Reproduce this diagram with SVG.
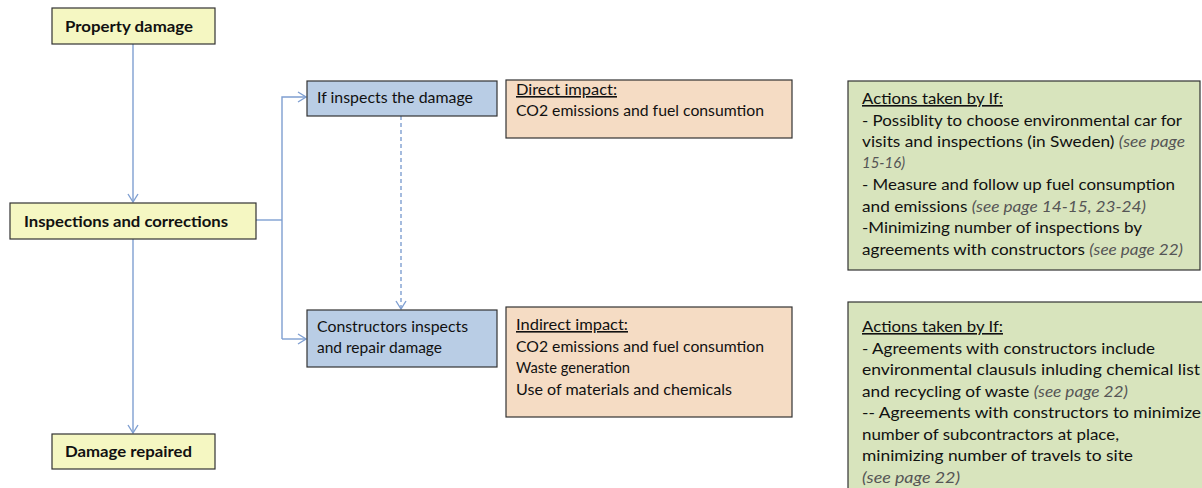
<svg xmlns="http://www.w3.org/2000/svg" width="1202" height="488" viewBox="0 0 1202 488">
<style>
text{font-family:Lato,"Open Sans","Liberation Sans",sans-serif;font-size:16px;fill:#111}
.y{fill:#f5f7c2;stroke:#333;stroke-width:1.2}
.b{fill:#b9cde5;stroke:#333;stroke-width:1.2}
.p{fill:#f5dcc4;stroke:#333;stroke-width:1.2}
.g{fill:#d8e4bd;stroke:#333;stroke-width:1.2}
.c{fill:none;stroke:#7f9fd1;stroke-width:1.4}
.d{stroke-dasharray:4,3}
.u{text-decoration:underline}
.i{font-style:italic;fill:#555}
.bo{font-weight:bold}
</style>
<defs>
<marker id="a" markerWidth="12" markerHeight="12" refX="9" refY="6" orient="auto" markerUnits="userSpaceOnUse">
<path d="M1,1 L9,6 L1,11" fill="none" stroke="#7f9fd1" stroke-width="1.4"/>
</marker>
</defs>
<g id="connectors">
<path class="c" d="M133,44 V202" marker-end="url(#a)"/>
<path class="c" d="M133,239 V433" marker-end="url(#a)"/>
<path class="c" d="M256,220 H282"/>
<path class="c" d="M282,339 V97 H306" marker-end="url(#a)"/>
<path class="c" d="M282,339 H306" marker-end="url(#a)"/>
<path class="c d" d="M401,116 V309" marker-end="url(#a)"/>
</g>
<g id="property-damage">
<rect class="y" x="52" y="8" width="163" height="36"/>
<text class="bo" x="65" y="32" textLength="128" lengthAdjust="spacingAndGlyphs">Property damage</text>
</g>
<g id="inspections">
<rect class="y" x="10" y="203" width="246" height="36"/>
<text class="bo" x="24" y="227" textLength="204" lengthAdjust="spacingAndGlyphs">Inspections and corrections</text>
</g>
<g id="damage-repaired">
<rect class="y" x="52" y="434" width="163" height="35"/>
<text class="bo" x="65" y="457" textLength="127" lengthAdjust="spacingAndGlyphs">Damage repaired</text>
</g>
<g id="if-inspects">
<rect class="b" x="307" y="81" width="190" height="35"/>
<text x="317" y="103" textLength="156" lengthAdjust="spacingAndGlyphs">If inspects the damage</text>
</g>
<g id="constructors">
<rect class="b" x="307" y="310" width="190" height="57"/>
<text x="317" y="332" textLength="151" lengthAdjust="spacingAndGlyphs">Constructors inspects</text>
<text x="317" y="353" textLength="125" lengthAdjust="spacingAndGlyphs">and repair damage</text>
</g>
<g id="direct-impact">
<rect class="p" x="506" y="80" width="286" height="58"/>
<text x="516" y="95" textLength="101" lengthAdjust="spacingAndGlyphs" class="u">Direct impact:</text>
<text x="516" y="116" textLength="248" lengthAdjust="spacingAndGlyphs">CO2 emissions and fuel consumtion</text>
</g>
<g id="indirect-impact">
<rect class="p" x="506" y="307" width="286" height="110"/>
<text x="516" y="330" textLength="112" lengthAdjust="spacingAndGlyphs" class="u">Indirect impact:</text>
<text x="516" y="352" textLength="248" lengthAdjust="spacingAndGlyphs">CO2 emissions and fuel consumtion</text>
<text x="516" y="373" textLength="114" lengthAdjust="spacingAndGlyphs">Waste generation</text>
<text x="516" y="395" textLength="216" lengthAdjust="spacingAndGlyphs">Use of materials and chemicals</text>
</g>
<g id="actions-1">
<rect class="g" x="848" y="81" width="352" height="189"/>
<text x="862" y="104" textLength="141" lengthAdjust="spacingAndGlyphs" class="u">Actions taken by If:</text>
<text x="862" y="126" textLength="320" lengthAdjust="spacingAndGlyphs">- Possiblity to choose environmental car for</text>
<text x="862" y="147" textLength="323" lengthAdjust="spacingAndGlyphs">visits and inspections (in Sweden) <tspan class="i">(see page</tspan></text>
<text x="862" y="168" textLength="43" lengthAdjust="spacingAndGlyphs" class="i">15-16)</text>
<text x="862" y="190" textLength="313" lengthAdjust="spacingAndGlyphs">- Measure and follow up fuel consumption</text>
<text x="862" y="212" textLength="284" lengthAdjust="spacingAndGlyphs">and emissions <tspan class="i">(see page 14-15, 23-24)</tspan></text>
<text x="862" y="233" textLength="280" lengthAdjust="spacingAndGlyphs">-Minimizing number of inspections by</text>
<text x="862" y="255" textLength="321" lengthAdjust="spacingAndGlyphs">agreements with constructors <tspan class="i">(see page 22)</tspan></text>
</g>
<g id="actions-2">
<rect class="g" x="848" y="302" width="360" height="200"/>
<text x="862" y="332" textLength="141" lengthAdjust="spacingAndGlyphs" class="u">Actions taken by If:</text>
<text x="862" y="353.5" textLength="293" lengthAdjust="spacingAndGlyphs">- Agreements with constructors include</text>
<text x="862" y="375" textLength="338" lengthAdjust="spacingAndGlyphs">environmental clausuls inluding chemical list</text>
<text x="862" y="396.5" textLength="266" lengthAdjust="spacingAndGlyphs">and recycling of waste <tspan class="i">(see page 22)</tspan></text>
<text x="862" y="418" textLength="339" lengthAdjust="spacingAndGlyphs">-- Agreements with constructors to minimize</text>
<text x="862" y="439.5" textLength="257" lengthAdjust="spacingAndGlyphs">number of subcontractors at place,</text>
<text x="862" y="461" textLength="271" lengthAdjust="spacingAndGlyphs">minimizing number of travels to site</text>
<text x="862" y="482.5" textLength="98" lengthAdjust="spacingAndGlyphs" class="i">(see page 22)</text>
</g>
</svg>
